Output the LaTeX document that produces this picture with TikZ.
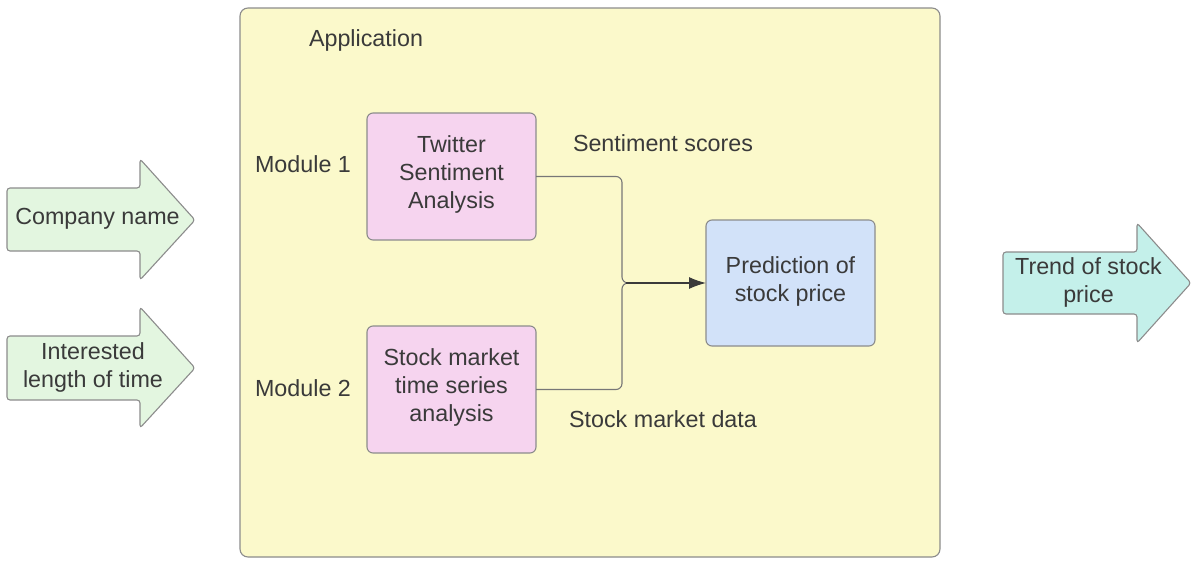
\documentclass[tikz,border=0pt]{standalone}
\usepackage{fontspec}
\setmainfont{Liberation Sans}
\usetikzlibrary{arrows.meta,calc}
\definecolor{appfill}{HTML}{FBF9CB}
\definecolor{pinkfill}{HTML}{F6D4EF}
\definecolor{bluefill}{HTML}{D2E2F9}
\definecolor{greenfill}{HTML}{E3F6E0}
\definecolor{tealfill}{HTML}{C4F0EA}
\definecolor{edge}{HTML}{8C8C8C}
\definecolor{txt}{HTML}{3A3A3A}
\tikzset{
  lbl/.style={text=txt,font=\fontsize{23.3}{28}\selectfont,align=center,inner sep=0pt},
  box/.style={draw=edge,line width=1.1pt,rounded corners=6pt},
  bigarrow/.style={draw=edge,line width=1.1pt,rounded corners=3pt},
  conn/.style={draw=edge!85!black,line width=1.1pt,rounded corners=6pt},
}
\begin{document}
\begin{tikzpicture}[x=1pt,y=-1pt]
\useasboundingbox (0,0) rectangle (1192,560);
% application container
\draw[box,fill=appfill,rounded corners=8pt] (240,8) rectangle (940,557);
\node[lbl] (app) at (366,40) {Application};
% modules
\draw[box,fill=pinkfill] (367,113) rectangle (536,240);
\node[lbl] (tw) at (451.5,174.5) {Twitter\\Sentiment\\Analysis};
\coordinate (twE) at (536,176.5);
\draw[box,fill=pinkfill] (367,326) rectangle (536,453);
\node[lbl] (sm) at (451.5,387.5) {Stock market\\time series\\analysis};
\coordinate (smE) at (536,389.5);
\draw[box,fill=bluefill] (706,220) rectangle (875,346);
\node[lbl] (pred) at (790.5,281) {Prediction of\\stock price};
\coordinate (predW) at (706,283);
\node[lbl] (m1) at (303,164) {Module 1};
\node[lbl] (m2) at (303,388) {Module 2};
\node[lbl] (ss) at (663,143) {Sentiment scores};
\node[lbl] (smd) at (663,419) {Stock market data};
% connectors
\coordinate (j) at (622,283);
\draw[conn] (twE) -- (j |- twE) -- (j) -- ($(j)+(12,0)$);
\draw[conn] (smE) -- (j |- smE) -- (j) -- ($(j)+(12,0)$);
\draw[draw=txt,line width=1.3pt,-{Latex[length=17pt,width=12pt]}] ($(j)+(4,0)$) -- (predW);
% input arrows
\draw[bigarrow,fill=greenfill] (7,188) -- (140,188) -- (140,159) -- (195,220) -- (140,280) -- (140,251) -- (7,251) -- cycle;
\node[lbl] (cn) at (97.5,219) {Company name};
\draw[bigarrow,fill=greenfill] (7,336) -- (140,336) -- (140,307) -- (195,368) -- (140,428) -- (140,400) -- (7,400) -- cycle;
\node[lbl] (ilt) at (93,367) {Interested\\length of time};
% output arrow
\draw[bigarrow,fill=tealfill] (1003,252) -- (1137,252) -- (1137,223) -- (1191,283) -- (1137,343) -- (1137,314) -- (1003,314) -- cycle;
\node[lbl] (trend) at (1088.5,282) {Trend of stock\\price};
\end{tikzpicture}
\end{document}
